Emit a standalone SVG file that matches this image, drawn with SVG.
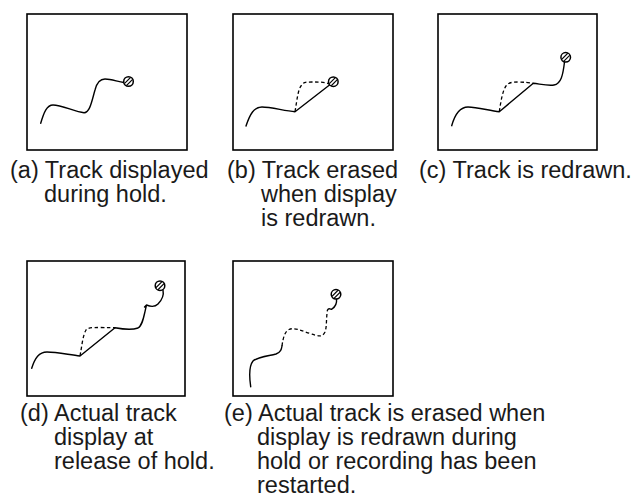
<svg xmlns="http://www.w3.org/2000/svg" xmlns:xlink="http://www.w3.org/1999/xlink" width="636" height="502" viewBox="0 0 636 502">
<style>
.frame{fill:#fff;stroke:#000;stroke-width:1.6}
.trk{fill:none;stroke:#000;stroke-width:1.4;stroke-linecap:round;stroke-linejoin:round}
.dash{fill:none;stroke:#000;stroke-width:1.3;stroke-dasharray:3.5 2.5}
.lbl{font-family:"Liberation Sans",Arial,Helvetica,sans-serif;font-size:23.5px;fill:#1a1a1a}
</style>
<defs>
<clipPath id="pc"><circle cx="0" cy="0" r="4.5"/></clipPath>
<g id="pin">
<circle cx="0" cy="0" r="4.8" fill="#fff" stroke="#000" stroke-width="1.5"/>
<g clip-path="url(#pc)" stroke="#000" stroke-width="1.2">
<line x1="-5" y1="3" x2="3" y2="-5"/>
<line x1="-3" y1="5" x2="5" y2="-3"/>
</g>
</g>
</defs>
<rect width="636" height="502" fill="#fff"/>

<g id="panel-a">
<rect class="frame" x="27" y="14" width="160" height="136"/>
<path class="trk" d="M40.7,123.3 C44,112 47,105 53,105 C62,105 75,112 84,112.7 C90,113 92,100 95,90 C97,82 100,79 105,79 C112,79 118,82 124,82.5"/>
<use xlink:href="#pin" x="128.5" y="81.5"/>
<text class="lbl"><tspan x="10" y="178">(a) Track displayed</tspan><tspan x="44" y="202">during hold.</tspan></text>
</g>

<g id="panel-b">
<rect class="frame" x="233" y="14" width="160" height="136"/>
<path class="trk" d="M246,126 C250,114 254,107 262,107 C271,107 285,111 295,111.7 L329.5,85"/>
<path class="dash" d="M295,111.7 C297,100 298,90 301,86 C303,82 306,82 312,82 C320,82 325,82 329.5,84"/>
<use xlink:href="#pin" x="333.3" y="81.7"/>
<text class="lbl"><tspan x="227" y="178">(b) Track erased</tspan><tspan x="261" y="202">when display</tspan><tspan x="261" y="226">is redrawn.</tspan></text>
</g>

<g id="panel-c">
<rect class="frame" x="438" y="14" width="159" height="136"/>
<path class="trk" d="M451.7,125.7 C455,114 460,107 468,107 C478,107 490,111 499.3,111.7 L533.3,83.3 C540,84 548,86 554,85 C561,84 563,75 564.5,62"/>
<path class="dash" d="M499.3,111.7 C501,100 503,90 506,86 C508,83 511,82 518,82 C525,82 530,83 533.3,83.3"/>
<use xlink:href="#pin" x="565.7" y="57.3"/>
<text class="lbl"><tspan x="419" y="178">(c) Track is redrawn.</tspan></text>
</g>

<g id="panel-d">
<rect class="frame" x="27" y="261" width="158" height="135"/>
<path class="trk" d="M31.7,368.3 C35,358 39,352 47,352 C57,352 70,355 80,356 L115,327.7 C122,329 132,330 138,328 C143,325 144,315 146.5,305 L144.5,307 M146.5,305 C150,306.5 155,307 158,304 C162,300 164,295 163,290"/>
<path class="dash" d="M80,356 C82,345 83,335 86,330 C88,327.5 92,327.5 100,327.5 C107,327.5 112,327.7 115,327.7"/>
<use xlink:href="#pin" x="160" y="285.7"/>
<text class="lbl"><tspan x="20" y="421">(d) Actual track</tspan><tspan x="54" y="445">display at</tspan><tspan x="54" y="469">release of hold.</tspan></text>
</g>

<g id="panel-e">
<rect class="frame" x="233" y="261" width="160" height="135"/>
<path class="trk" d="M250.7,386.7 C249,375 249,366 253,361 C257,357 268,356 276,354 C281,352 281.5,349 282,346"/>
<path class="dash" d="M282,346 C283,338 285,331 289,329.5 C294,327 302,331 310,333.5 C318,336 322,338 325,332 C327,327 326,318 327.5,310"/>
<path class="trk" d="M327.5,310 C329,307 330,310 332,309 C335,307 337,303 336.5,298.5"/>
<use xlink:href="#pin" x="336" y="294.3"/>
<text class="lbl"><tspan x="224" y="421">(e) Actual track is erased when</tspan><tspan x="257" y="445">display is redrawn during</tspan><tspan x="257" y="469">hold or recording has been</tspan><tspan x="257" y="493">restarted.</tspan></text>
</g>

<g id="connectors"/>
</svg>
